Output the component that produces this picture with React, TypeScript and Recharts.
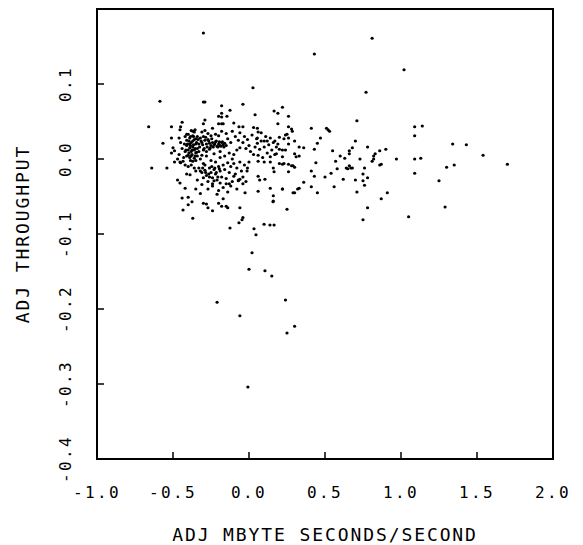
import React from "react";
import { ScatterChart, Scatter, XAxis, YAxis, ReferenceArea, Label } from "recharts";

type Pt = [number, number];

// dense core, left blob around x = -0.4
const coreLeft: Pt[] = [
  [-0.42, 0.030], [-0.41, 0.025], [-0.40, 0.033], [-0.39, 0.028], [-0.38, 0.022], [-0.37, 0.031],
  [-0.36, 0.026], [-0.35, 0.020], [-0.41, 0.018], [-0.40, 0.012], [-0.39, 0.015], [-0.38, 0.010],
  [-0.37, 0.016], [-0.36, 0.012], [-0.35, 0.008], [-0.34, 0.014], [-0.40, 0.005], [-0.39, 0.002],
  [-0.38, 0.004], [-0.36, 0.001], [-0.37, -0.003], [-0.35, -0.002], [-0.34, 0.004], [-0.33, 0.020],
  [-0.33, 0.010], [-0.36, 0.036], [-0.38, 0.038], [-0.34, 0.030], [-0.42, 0.010], [-0.43, 0.002],
  [-0.44, 0.014], [-0.45, 0.022], [-0.46, 0.006], [-0.47, 0.000], [-0.45, -0.005], [-0.42, -0.008],
  [-0.40, -0.010], [-0.38, -0.008], [-0.36, -0.012], [-0.39, 0.020], [-0.37, 0.024], [-0.41, 0.004],
  [-0.35, 0.027], [-0.355, 0.039], [-0.454, 0.039], [-0.46, 0.028], [-0.51, 0.028], [-0.566, 0.021],
  [-0.50, 0.015], [-0.49, 0.011], [-0.51, 0.008], [-0.41, 0.033], [-0.37, 0.037], [-0.24, 0.041],
  [-0.20, 0.047],
];

// extra weight in the darkest part of the core
const coreDense: Pt[] = [
  [-0.395, 0.024], [-0.385, 0.018], [-0.375, 0.012], [-0.365, 0.019], [-0.355, 0.014], [-0.345, 0.022],
  [-0.395, 0.008], [-0.385, 0.030], [-0.375, 0.006], [-0.365, 0.030], [-0.355, 0.004], [-0.345, 0.009],
  [-0.335, 0.026], [-0.325, 0.016], [-0.315, 0.024], [-0.305, 0.019], [-0.295, 0.014], [-0.285, 0.029],
  [-0.275, 0.016], [-0.265, 0.024], [-0.255, 0.015], [-0.245, 0.027], [-0.235, 0.016], [-0.225, 0.020],
  [-0.215, 0.024], [-0.205, 0.016], [-0.195, 0.023], [-0.185, 0.017], [-0.175, 0.023], [-0.165, 0.016],
  [-0.225, -0.012], [-0.215, -0.018], [-0.205, -0.024], [-0.195, -0.013], [-0.285, -0.018], [-0.265, -0.020],
  [-0.305, -0.012], [-0.245, -0.010], [-0.405, 0.020], [-0.415, 0.012], [-0.425, 0.020], [-0.385, -0.002],
];

// dense core, streak at y ~ 0.02 and the band below it
const coreMid: Pt[] = [
  [-0.32, 0.028], [-0.31, 0.022], [-0.30, 0.030], [-0.29, 0.025], [-0.28, 0.020], [-0.27, 0.026],
  [-0.26, 0.021], [-0.25, 0.018], [-0.24, 0.022], [-0.23, 0.019], [-0.22, 0.023], [-0.21, 0.017],
  [-0.20, 0.020], [-0.19, 0.018], [-0.18, 0.022], [-0.17, 0.019], [-0.16, 0.021], [-0.15, 0.018],
  [-0.30, 0.012], [-0.28, 0.010], [-0.26, 0.013], [-0.31, 0.036], [-0.29, 0.038], [-0.27, 0.034],
  [-0.25, 0.031], [-0.22, 0.033], [-0.20, 0.031], [-0.14, 0.027], [-0.12, 0.022], [-0.28, 0.004],
  [-0.31, 0.005], [-0.32, 0.000], [-0.30, -0.006], [-0.33, -0.012], [-0.31, -0.018], [-0.30, -0.025],
  [-0.29, -0.015], [-0.28, -0.022], [-0.27, -0.030], [-0.26, -0.012], [-0.25, -0.018], [-0.24, -0.025],
  [-0.23, -0.014], [-0.22, -0.020], [-0.21, -0.028], [-0.20, -0.010], [-0.19, -0.016], [-0.18, -0.024],
  [-0.17, -0.008], [-0.16, -0.014], [-0.15, -0.026], [-0.14, -0.005], [-0.13, -0.018], [-0.12, -0.010],
  [-0.11, -0.030], [-0.10, -0.006], [-0.09, -0.020], [-0.08, -0.012], [-0.07, -0.028], [-0.06, -0.004],
  [-0.05, -0.016], [-0.04, -0.024], [-0.03, -0.008], [-0.02, -0.030], [-0.01, -0.012], [-0.25, -0.002],
  [-0.22, -0.004], [-0.19, 0.002], [-0.16, 0.004], [-0.13, 0.008], [-0.10, 0.006], [-0.08, 0.012],
  [-0.06, 0.015], [-0.27, -0.040], [-0.24, -0.036], [-0.20, -0.042], [-0.17, -0.038], [-0.14, -0.044],
  [-0.12, -0.036], [-0.08, -0.040], [-0.31, -0.034], [-0.34, -0.028], [-0.35, -0.040], [-0.32, -0.046],
  [-0.18, 0.037], [-0.15, 0.034], [-0.11, 0.037], [-0.23, 0.007], [-0.19, 0.010], [-0.29, -0.008],
];

// spread right of the core, x -0.1 .. 0.45
const nearRight: Pt[] = [
  [-0.09, 0.030], [-0.07, 0.025], [-0.06, 0.035], [-0.04, 0.022], [-0.03, 0.030], [-0.02, 0.014],
  [-0.01, 0.026], [0.0, 0.018], [0.01, 0.010], [0.02, 0.032], [0.03, 0.006], [0.04, 0.016],
  [0.05, 0.027], [0.06, 0.005], [0.06, 0.036], [0.07, 0.013], [0.08, 0.024], [0.09, 0.002],
  [0.10, 0.016], [0.11, 0.030], [0.12, 0.008], [0.13, 0.019], [0.14, 0.003], [0.15, 0.012],
  [0.16, 0.022], [0.17, 0.006], [0.18, 0.016], [0.03, 0.042], [0.055, 0.041], [0.055, 0.028],
  [0.055, 0.021], [0.10, 0.024], [0.18, 0.007], [0.0, -0.004], [0.06, -0.003], [0.10, -0.004],
  [0.14, -0.004], [0.22, -0.007], [0.26, -0.007], [0.29, -0.009], [0.16, -0.012], [0.165, -0.017],
  [0.105, -0.027], [0.07, -0.028], [0.06, -0.023], [-0.013, -0.016], [-0.07, -0.029], [-0.06, -0.027],
  [-0.04, -0.033], [-0.026, -0.045], [-0.10, -0.023], [-0.13, -0.033], [-0.15, -0.033], [-0.19, -0.032],
  [0.14, -0.039], [0.06, -0.043], [0.16, -0.049], [0.16, -0.056], [0.22, -0.040], [0.30, -0.045],
  [0.32, -0.040], [0.33, -0.039], [0.25, -0.067], [-0.17, -0.053], [-0.14, -0.065], [-0.15, -0.063],
  [-0.06, -0.065], [-0.04, -0.078], [-0.046, -0.081], [-0.21, -0.047], [0.20, 0.013], [0.22, 0.012],
  [0.24, 0.012], [0.30, 0.007], [0.31, 0.003], [0.33, 0.004], [0.36, 0.015], [0.22, 0.003],
  [0.44, -0.005], [0.20, -0.006], [0.23, -0.006], [0.28, -0.009], [0.30, -0.011], [0.26, -0.017],
  [0.41, -0.016], [0.43, -0.023], [0.45, -0.045], [0.41, -0.037], [0.36, -0.031], [0.22, -0.040],
  [0.29, -0.045], [0.24, 0.032], [0.25, 0.033], [0.26, 0.028], [0.22, 0.069], [0.26, 0.057],
  [0.19, 0.047], [0.26, 0.043], [0.28, 0.040], [0.165, 0.064], [0.19, 0.061], [0.04, 0.059],
  [-0.04, 0.073], [-0.18, 0.071], [-0.125, 0.065], [-0.18, 0.061], [-0.18, 0.056], [-0.20, 0.057],
  [-0.145, 0.057], [-0.29, 0.052], [-0.30, 0.047], [-0.18, 0.047], [-0.17, 0.047], [-0.10, 0.048],
  [-0.066, 0.043], [-0.04, 0.043], [-0.44, 0.049], [-0.51, 0.043], [-0.30, 0.076], [-0.29, 0.076],
  [0.20, 0.029], [0.23, 0.027], [0.26, 0.020], [0.285, 0.037], [0.30, 0.024], [0.33, 0.016],
  [0.12, 0.024], [0.14, 0.028], [0.17, 0.024], [0.19, 0.020], [0.08, 0.035], [-0.11, 0.000],
];

// sparse points further right, x > 0.45
const farRight: Pt[] = [
  [0.41, 0.041], [0.51, 0.041], [0.52, 0.039], [0.53, 0.037], [0.71, 0.051], [1.09, 0.043],
  [1.14, 0.044], [1.09, 0.031], [0.47, 0.028], [0.45, 0.021], [0.43, 0.013], [0.70, 0.024],
  [0.68, 0.015], [0.66, 0.011], [0.66, 0.007], [0.78, 0.016], [0.90, 0.013], [0.86, 0.011],
  [0.83, 0.007], [0.82, 0.004], [0.82, 0.0], [0.81, -0.003], [0.97, 0.0], [1.09, 0.0],
  [1.13, 0.001], [1.34, 0.020], [1.43, 0.019], [1.54, 0.005], [1.70, -0.007], [1.09, -0.019],
  [1.30, -0.011], [1.35, -0.008], [1.25, -0.029], [1.29, -0.064], [1.05, -0.077], [0.50, -0.024],
  [0.54, -0.019], [0.56, -0.037], [0.57, -0.003], [0.58, -0.013], [0.62, -0.027], [0.63, 0.001],
  [0.64, -0.012], [0.65, -0.013], [0.66, -0.009], [0.67, -0.012], [0.68, -0.012], [0.70, -0.028],
  [0.71, -0.044], [0.73, 0.0], [0.75, -0.020], [0.75, -0.029], [0.76, -0.035], [0.76, -0.012],
  [0.78, -0.025], [0.86, -0.008], [0.87, -0.007], [0.87, -0.053], [0.91, -0.045], [0.78, -0.065],
  [0.75, -0.081], [0.55, 0.011], [0.60, 0.004],
];

// lower tail and isolated outliers
const outliers: Pt[] = [
  [-0.30, 0.168], [0.81, 0.161], [0.43, 0.140], [1.02, 0.119], [0.77, 0.089], [0.026, 0.095],
  [-0.586, 0.077], [-0.66, 0.043], [-0.64, -0.012], [-0.54, -0.012], [-0.45, 0.043], [-0.49, -0.004],
  [-0.454, -0.004], [-0.434, -0.003], [-0.47, -0.028], [-0.454, -0.032], [-0.42, -0.039], [-0.388, -0.021],
  [-0.41, -0.020], [-0.35, -0.016], [-0.32, -0.016], [-0.44, -0.052], [-0.40, -0.051], [-0.375, -0.057],
  [-0.40, -0.061], [-0.434, -0.068], [-0.37, -0.079], [-0.30, -0.059], [-0.28, -0.060], [-0.27, -0.065],
  [-0.24, -0.069], [-0.23, -0.029], [-0.24, -0.033], [-0.26, -0.024], [-0.20, -0.059], [-0.18, -0.063],
  [-0.066, -0.085], [-0.125, -0.092], [0.033, -0.093], [0.046, -0.101], [0.099, -0.087], [0.138, -0.088],
  [0.165, -0.088], [0.158, -0.057], [0.02, -0.125], [0.0, -0.147], [0.105, -0.149], [0.15, -0.156],
  [-0.21, -0.191], [0.24, -0.188], [-0.06, -0.209], [0.30, -0.223], [0.25, -0.232], [-0.007, -0.304],
];

const points = [...coreLeft, ...coreDense, ...coreMid, ...nearRight, ...farRight, ...outliers].map(
  ([x, y]) => ({ x, y })
);

const xTicks = [-1.0, -0.5, 0.0, 0.5, 1.0, 1.5, 2.0];
const yTicks = [-0.4, -0.3, -0.2, -0.1, 0.0, 0.1];

const FONT = "'DejaVu Sans Mono', monospace";

function XTick({ x, y, payload }: any) {
  const v = payload.value;
  const inner = v > -1 && v < 2;
  return (
    <g>
      {inner && <line x1={x} y1={y} x2={x} y2={y - 7} stroke="#000" strokeWidth={1.5} />}
      <text x={x} y={y + 39} textAnchor="middle" fontFamily={FONT} fontSize={16} letterSpacing={2.4} fill="#000">
        {v.toFixed(1)}
      </text>
    </g>
  );
}

function YTick({ x, y, payload }: any) {
  const v = payload.value;
  const inner = v > -0.4 && v < 0.2;
  const tx = 71;
  return (
    <g>
      {inner && <line x1={x} y1={y} x2={x + 7} y2={y} stroke="#000" strokeWidth={1.5} />}
      <text
        x={tx}
        y={y}
        transform={`rotate(-90, ${tx}, ${y})`}
        textAnchor="middle"
        fontFamily={FONT}
        fontSize={16}
        letterSpacing={2.4}
        fill="#000"
      >
        {v.toFixed(1)}
      </text>
    </g>
  );
}

function XTitle({ viewBox }: any) {
  const cx = viewBox.x + viewBox.width / 2;
  return (
    <text x={cx} y={viewBox.y + 82} textAnchor="middle" fontFamily={FONT} fontSize={18} letterSpacing={1.9} fill="#000">
      ADJ MBYTE SECONDS/SECOND
    </text>
  );
}

function YTitle({ viewBox }: any) {
  const cy = viewBox.y + viewBox.height / 2;
  const tx = 29;
  return (
    <text
      x={tx}
      y={cy}
      transform={`rotate(-90, ${tx}, ${cy})`}
      textAnchor="middle"
      fontFamily={FONT}
      fontSize={18}
      letterSpacing={1.9}
      fill="#000"
    >
      ADJ THROUGHPUT
    </text>
  );
}

const Dot = ({ cx, cy }: any) => <circle cx={cx} cy={cy} r={1.6} fill="#000" />;

export default function App() {
  return (
    <div style={{ position: "absolute", left: 0, top: 0, background: "#fff" }}>
      <ScatterChart width={583} height={545} margin={{ top: 9, right: 30, bottom: 0, left: 0 }}>
        <XAxis
          type="number"
          dataKey="x"
          domain={[-1, 2]}
          ticks={xTicks}
          allowDataOverflow
          axisLine={false}
          tickLine={false}
          tickSize={0}
          tickMargin={0}
          height={86}
          tick={<XTick />}
          interval={0}
        >
          <Label content={<XTitle />} />
        </XAxis>
        <YAxis
          type="number"
          dataKey="y"
          domain={[-0.4, 0.2]}
          ticks={yTicks}
          allowDataOverflow
          axisLine={false}
          tickLine={false}
          tickSize={0}
          tickMargin={0}
          width={97}
          tick={<YTick />}
          interval={0}
        >
          <Label content={<YTitle />} />
        </YAxis>
        <ReferenceArea x1={-1} x2={2} y1={-0.4} y2={0.2} fill="none" stroke="#000" strokeWidth={2} ifOverflow="visible" />
        <Scatter data={points} shape={<Dot />} isAnimationActive={false} />
      </ScatterChart>
    </div>
  );
}
